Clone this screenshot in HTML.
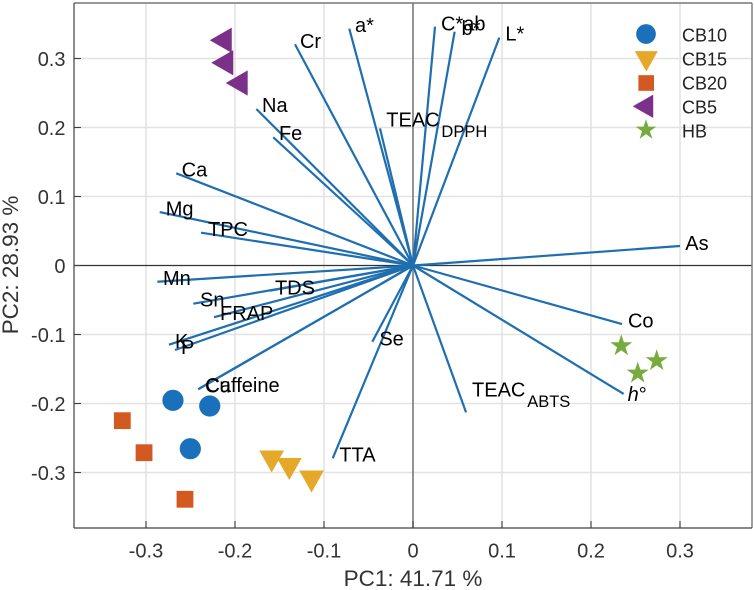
<!DOCTYPE html>
<html lang="en">
<head>
<meta charset="utf-8">
<title>PCA biplot</title>
<style>
  html, body { margin: 0; padding: 0; background: #fff; }
  svg { display: block; font-family: "Liberation Sans", Arial, sans-serif; }
</style>
</head>
<body>
<svg id="chart" xmlns="http://www.w3.org/2000/svg" width="754" height="590" viewBox="0 0 754 590">
  <rect x="0" y="0" width="754" height="590" fill="#ffffff"/>
  <g id="grid"></g>
  <g id="zero-lines"></g>
  <g id="loadings"></g>
  <g id="labels"></g>
  <g id="scores"></g>
  <g id="frame"></g>
  <g id="ticks"></g>
  <text x="413" y="586" font-size="22.5" fill="#333333" text-anchor="middle">PC1: 41.71 %</text>
  <text transform="translate(18 265) rotate(-90)" font-size="22.5" fill="#333333" text-anchor="middle">PC2: 28.93 %</text>
  <g id="legend"></g>
</svg>
<script>
// ---- chart data ----
const xTickValues = [-0.3, -0.2, -0.1, 0, 0.1, 0.2, 0.3];
const yTickValues = [0.3, 0.2, 0.1, 0, -0.1, -0.2, -0.3];
const xTickLabels = ['-0.3', '-0.2', '-0.1', '0', '0.1', '0.2', '0.3'];
const yTickLabels = ['0.3', '0.2', '0.1', '0', '-0.1', '-0.2', '-0.3'];

const loadingNames = ['Cr', 'a*', 'Na', 'Fe', 'Ca', 'Mg', 'TPC', 'Mn', 'Sn', 'TDS', 'FRAP', 'K', 'P', 'Cu', 'Caffeine', 'Se', 'TTA', 'TEAC_ABTS', 'h°', 'Co', 'As', 'L*', 'b*', 'C*ab', 'TEAC_DPPH'];
const loadingPC1 = [-0.1326, -0.0716, -0.1760, -0.1570, -0.2660, -0.2846, -0.2382, -0.2873, -0.2468, -0.1607, -0.2236, -0.2742, -0.2674, -0.2413, -0.2407, -0.0457, -0.0902, 0.0596, 0.2367, 0.2348, 0.3000, 0.0970, 0.0468, 0.0247, -0.0371];
const loadingPC2 = [0.3206, 0.3432, 0.2268, 0.1858, 0.1336, 0.0775, 0.0475, -0.0235, -0.0553, -0.0365, -0.0749, -0.1148, -0.1225, -0.1794, -0.1787, -0.1104, -0.2794, -0.2128, -0.1862, -0.0848, 0.0283, 0.3302, 0.3389, 0.3461, 0.1988];

const cb10PC1 = [-0.2697, -0.2284, -0.2502];
const cb10PC2 = [-0.1954, -0.2036, -0.2655];
const cb15PC1 = [-0.1588, -0.1390, -0.1140];
const cb15PC2 = [-0.2841, -0.2949, -0.3130];
const cb20PC1 = [-0.3266, -0.3022, -0.2562];
const cb20PC2 = [-0.2249, -0.2713, -0.3388];
const cb5PC1 = [-0.2160, -0.2143, -0.1981];
const cb5PC2 = [0.3264, 0.2938, 0.2645];
const hbPC1 = [0.2340, 0.2738, 0.2525];
const hbPC2 = [-0.1164, -0.1381, -0.1561];

const seriesNames = ['CB10', 'CB15', 'CB20', 'CB5', 'HB'];

// ---- axis functions ----
function xScale(v) { return 413 + v * 890; }
function yScale(v) { return 265.5 - v * 690; }

const plotLeft = 74, plotRight = 752, plotTop = 3, plotBottom = 528;
const NS = 'http://www.w3.org/2000/svg';

function make(tag, parent, attrs) {
  const el = document.createElementNS(NS, tag);
  for (const k in attrs) el.setAttribute(k, attrs[k]);
  parent.appendChild(el);
  return el;
}
function slug(s) {
  return s.toLowerCase().replace(/\*/g, '-star').replace(/°/g, '-degree').replace(/_/g, '-');
}

// ---- grid ----
const gridG = document.getElementById('grid');
xTickValues.forEach(function (v) {
  if (v === 0) return;
  const l = make('line', gridG, { x1: xScale(v), x2: xScale(v), y1: plotTop, y2: plotBottom, stroke: '#e2e2e2', 'stroke-width': 1.5 });
  
  
});
yTickValues.forEach(function (v) {
  if (v === 0) return;
  const l = make('line', gridG, { x1: plotLeft, x2: plotRight, y1: yScale(v), y2: yScale(v), stroke: '#e2e2e2', 'stroke-width': 1.5 });
  
  
});

// ---- zero lines ----
const zeroG = document.getElementById('zero-lines');
const zeroV = make('line', zeroG, { x1: xScale(0), x2: xScale(0), y1: plotTop, y2: plotBottom, stroke: '#7a7a7a', 'stroke-width': 1.6 });


const zeroH = make('line', zeroG, { x1: plotLeft, x2: plotRight, y1: yScale(0), y2: yScale(0), stroke: '#333333', 'stroke-width': 1.2 });



// ---- loading vectors ----
const loadG = document.getElementById('loadings');
loadingNames.forEach(function (name, i) {
  const l = make('line', loadG, { x1: xScale(0), y1: yScale(0), x2: xScale(loadingPC1[i]), y2: yScale(loadingPC2[i]), stroke: '#1f6fb0', 'stroke-width': 2.2 });
  
  
});

// ---- loading labels: text placement relative to each vector tip ----
const labelPlacement = {
  'Cr': [5, 3.7], 'a*': [5.7, 3.3], 'Na': [5.7, 3], 'Fe': [5.7, 2.7], 'Ca': [5.4, 3.4],
  'Mg': [6, 3.7], 'TPC': [7, 3.3], 'Mn': [5.7, 3.3], 'Sn': [6.7, 3], 'TDS': [5, 3.6],
  'FRAP': [6, 2.7], 'K': [6, 3.3], 'P': [6, 4], 'Cu': [6.7, 3], 'Caffeine': [6.7, 3],
  'Se': [7, 4], 'TTA': [6.6, 3.4], 'TEAC_ABTS': [6, -15.6], 'h°': [4, 7], 'Co': [6, 3.3],
  'As': [5.3, 4], 'L*': [6, 3], 'b*': [6.8, 3.3], 'C*ab': [6, 4], 'TEAC_DPPH': [6.3, -1.6]
};
const labelG = document.getElementById('labels');
loadingNames.forEach(function (name, i) {
  const off = labelPlacement[name];
  const t = make('text', labelG, { x: xScale(loadingPC1[i]) + off[0], y: yScale(loadingPC2[i]) + off[1], 'font-size': 20, fill: '#000000' });
  
  
  if (name.indexOf('_') >= 0) {
    const parts = name.split('_');
    const main = make('tspan', t, {});
    main.textContent = parts[0];
    const sub = make('tspan', t, { dx: 1.8, dy: 10.5, 'font-size': 16.5 });
    sub.textContent = parts[1];
  } else if (name === 'h°') {
    const it = make('tspan', t, { 'font-style': 'italic' });
    it.textContent = 'h';
    const deg = make('tspan', t, {});
    deg.textContent = '°';
  } else {
    t.textContent = name;
  }
});

// ---- markers ----
const COLORS = { CB10: '#1b70bb', CB15: '#e5a828', CB20: '#d2591f', CB5: '#7b3189', HB: '#76ab3e' };
function drawMarker(parent, series, cx, cy, k) {
  let el;
  if (series === 'CB10') {
    el = make('circle', parent, { cx: cx, cy: cy, r: 10.6 * k, fill: COLORS[series] });
  } else if (series === 'CB15') {
    const w = 12.4 * k, h = 11 * k;
    el = make('polygon', parent, { points: (cx - w) + ',' + (cy - h) + ' ' + (cx + w) + ',' + (cy - h) + ' ' + cx + ',' + (cy + h), fill: COLORS[series] });
  } else if (series === 'CB20') {
    const s = 8.4 * k;
    el = make('rect', parent, { x: cx - s, y: cy - s, width: 2 * s, height: 2 * s, fill: COLORS[series] });
  } else if (series === 'CB5') {
    const w = 11 * k, h = 12.6 * k;
    el = make('polygon', parent, { points: (cx - w) + ',' + cy + ' ' + (cx + w) + ',' + (cy - h) + ' ' + (cx + w) + ',' + (cy + h), fill: COLORS[series] });
  } else {
    const R = 11.6 * k, r = R * 0.382;
    const pts = [];
    for (let j = 0; j < 10; j++) {
      const a = -Math.PI / 2 + j * Math.PI / 5;
      const rad = j % 2 === 0 ? R : r;
      pts.push((cx + rad * Math.cos(a)).toFixed(2) + ',' + (cy + rad * Math.sin(a)).toFixed(2));
    }
    el = make('polygon', parent, { points: pts.join(' '), fill: COLORS[series] });
  }
  return el;
}

const scoresG = document.getElementById('scores');
function drawSeries(series, xs, ys) {
  xs.forEach(function (x, i) {
    const m = drawMarker(scoresG, series, xScale(x), yScale(ys[i]), 1);
    
    
  });
}
drawSeries('CB20', cb20PC1, cb20PC2);
drawSeries('CB10', cb10PC1, cb10PC2);
drawSeries('CB15', cb15PC1, cb15PC2);
drawSeries('CB5', cb5PC1, cb5PC2);
drawSeries('HB', hbPC1, hbPC2);

// ---- frame ----
const frameG = document.getElementById('frame');
const frameTop = make('line', frameG, { x1: plotLeft, x2: plotRight, y1: plotTop, y2: plotTop, stroke: '#777777', 'stroke-width': 1.4 });


const frameRight = make('line', frameG, { x1: plotRight, x2: plotRight, y1: plotTop, y2: plotBottom, stroke: '#777777', 'stroke-width': 1.4 });


const frameLeft = make('line', frameG, { x1: plotLeft, x2: plotLeft, y1: plotTop, y2: plotBottom, stroke: '#404040', 'stroke-width': 1.2 });


const frameBottom = make('line', frameG, { x1: plotLeft, x2: plotRight, y1: plotBottom, y2: plotBottom, stroke: '#404040', 'stroke-width': 1.2 });



// ---- ticks ----
const ticksG = document.getElementById('ticks');
xTickValues.forEach(function (v, i) {
  const tick = make('line', ticksG, { x1: xScale(v), x2: xScale(v), y1: plotBottom, y2: plotBottom - 7, stroke: '#404040', 'stroke-width': 1.1 });
  
  
  const label = make('text', ticksG, { x: xScale(v), y: 557.5, 'font-size': 20, fill: '#333333', 'text-anchor': 'middle' });
  
  
  label.textContent = xTickLabels[i];
});
yTickValues.forEach(function (v, i) {
  const tick = make('line', ticksG, { x1: plotLeft, x2: plotLeft + 7, y1: yScale(v), y2: yScale(v), stroke: '#404040', 'stroke-width': 1.1 });
  
  
  const label = make('text', ticksG, { x: 65.5, y: yScale(v) + 7.4, 'font-size': 20, fill: '#333333', 'text-anchor': 'end' });
  
  
  label.textContent = yTickLabels[i];
});

// ---- legend: marker placement within the key box ----
const legendMarkerPlacement = {
  CB10: [646, 34], CB15: [646.3, 61.3], CB20: [646.2, 83], CB5: [643, 106.3], HB: [646, 130]
};
const legendG = document.getElementById('legend');
seriesNames.forEach(function (name, i) {
  const place = legendMarkerPlacement[name];
  const m = drawMarker(legendG, name, place[0], place[1], 0.93);
  
  
  const t = make('text', legendG, { x: 682, y: 41.7 + i * 24, 'font-size': 18, fill: '#222222' });
  
  
  t.textContent = name;
});
</script>
</body>
</html>
